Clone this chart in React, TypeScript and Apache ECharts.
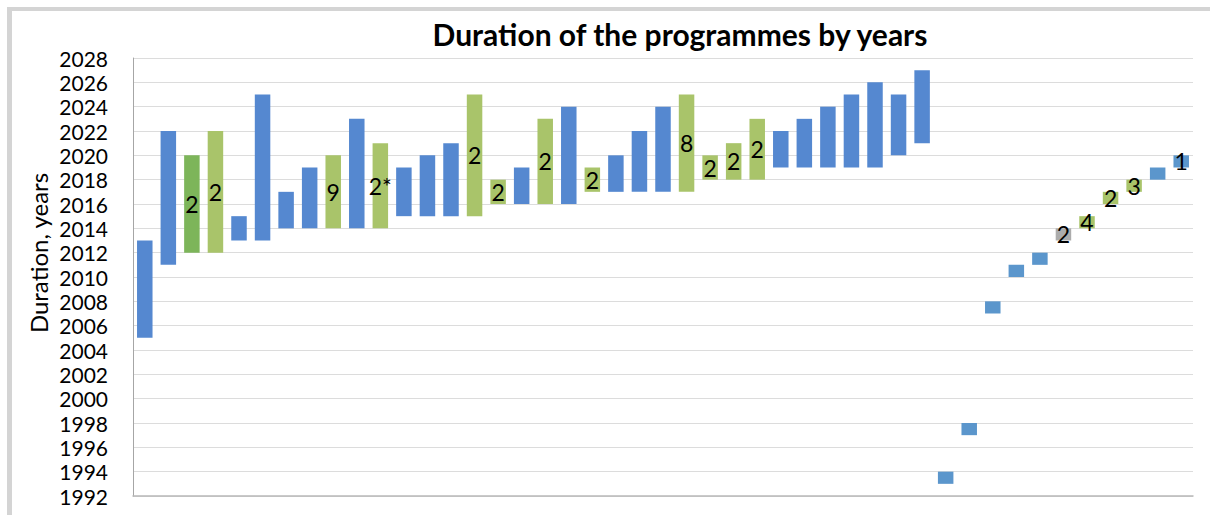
import React, { useEffect, useRef } from "react";
import * as echarts from "echarts";

const categories = Array.from({ length: 45 }, (_, i) => `P${i + 1}`);
const startYears = [2005, 2011, 2012, 2012, 2013, 2013, 2014, 2014, 2014, 2014, 2014, 2015, 2015, 2015, 2015, 2016, 2016, 2016, 2016, 2017, 2017, 2017, 2017, 2017, 2018, 2018, 2018, 2019, 2019, 2019, 2019, 2019, 2020, 2021, 1993, 1997, 2007, 2010, 2011, 2013, 2014, 2016, 2017, 2018, 2019];
const endYears = [2013, 2022, 2020, 2022, 2015, 2025, 2017, 2019, 2020, 2023, 2021, 2019, 2020, 2021, 2025, 2018, 2019, 2023, 2024, 2019, 2020, 2022, 2024, 2025, 2020, 2021, 2023, 2022, 2023, 2024, 2025, 2026, 2025, 2027, 1994, 1998, 2008, 2011, 2012, 2014, 2015, 2017, 2018, 2019, 2020];
const kinds = ["b", "b", "dg", "g", "b", "b", "b", "b", "g", "b", "g", "b", "b", "b", "g", "g", "b", "g", "b", "g", "b", "b", "b", "g", "g", "g", "g", "b", "b", "b", "b", "b", "b", "b", "s", "s", "s", "s", "s", "gr", "g", "g", "g", "s", "s"];
const barLabels = ["", "", "2", "2", "", "", "", "", "9", "", "2*", "", "", "", "2", "2", "", "2", "", "2", "", "", "", "8", "2", "2", "2", "", "", "", "", "", "", "", "", "", "", "", "", "2", "4", "2", "3", "", "1"];
const yTicks = { min: 1992, max: 2028, step: 2 };

const kindColors: Record<string, string> = {
  b: "#5588d0",
  s: "#5b96cc",
  g: "#a9c46a",
  dg: "#7db55a",
  gr: "#acacac",
};

const FONT = "Lato, 'Open Sans', sans-serif";

export default function App() {
  const ref = useRef<HTMLDivElement>(null);
  useEffect(() => {
    if (!ref.current) return;
    const chart = echarts.init(ref.current, undefined, { renderer: "svg" });
    const rangeData = startYears.map((s, i) => ({
      value: endYears[i] - s,
      itemStyle: { color: kindColors[kinds[i]] },
      label: {
        show: barLabels[i] !== "",
        formatter: barLabels[i],
      },
    }));
    chart.setOption({
      animation: false,
      backgroundColor: "#ffffff",
      textStyle: { fontFamily: FONT },
      grid: { left: 133, right: 17, top: 58, bottom: 19, containLabel: false },
      graphic: [
        { type: "rect", shape: { x: 7, y: 7, width: 5, height: 508 }, style: { fill: "#d4d4d4" }, silent: true },
        { type: "rect", shape: { x: 7, y: 7, width: 1203, height: 4 }, style: { fill: "#d4d4d4" }, silent: true },
        {
          type: "text",
          x: 680,
          y: 34,
          style: {
            text: "Duration of the programmes by years",
            font: `bold 30px ${FONT}`,
            fill: "#000",
            textAlign: "center",
            textVerticalAlign: "middle",
          },
        },
        {
          type: "text",
          x: 38,
          y: 253,
          rotation: Math.PI / 2,
          style: {
            text: "Duration, years",
            font: `24px ${FONT}`,
            fill: "#000",
            textAlign: "center",
            textVerticalAlign: "middle",
          },
        },
      ],
      xAxis: {
        type: "category",
        data: categories,
        boundaryGap: true,
        axisLine: { show: true, lineStyle: { color: "#b8b8b8", width: 1.5 } },
        axisTick: { show: false },
        axisLabel: { show: false },
        splitLine: { show: false },
      },
      yAxis: {
        type: "value",
        min: yTicks.min,
        max: yTicks.max,
        interval: yTicks.step,
        axisLine: { show: true, lineStyle: { color: "#a6a6a6", width: 1 } },
        axisTick: { show: false },
        axisLabel: {
          color: "#000",
          fontSize: 21,
          lineHeight: 20,
          fontFamily: FONT,
          margin: 25,
          formatter: (v: number) => String(v),
        },
        splitLine: { show: true, lineStyle: { color: "#dcdcdc", width: 1.2 } },
      },
      series: [
        {
          type: "bar",
          stack: "range",
          data: startYears,
          itemStyle: { color: "rgba(0,0,0,0)" },
          silent: true,
          barWidth: 15.5,
        },
        {
          type: "bar",
          stack: "range",
          data: rangeData,
          barWidth: 15.5,
          label: {
            position: "inside",
            color: "#000",
            fontSize: 23,
            fontFamily: FONT,
          },
        },
      ],
    });
    return () => chart.dispose();
  }, []);
  return <div ref={ref} style={{ position: "absolute", left: 0, top: 0, width: 1210, height: 515 }} />;
}
